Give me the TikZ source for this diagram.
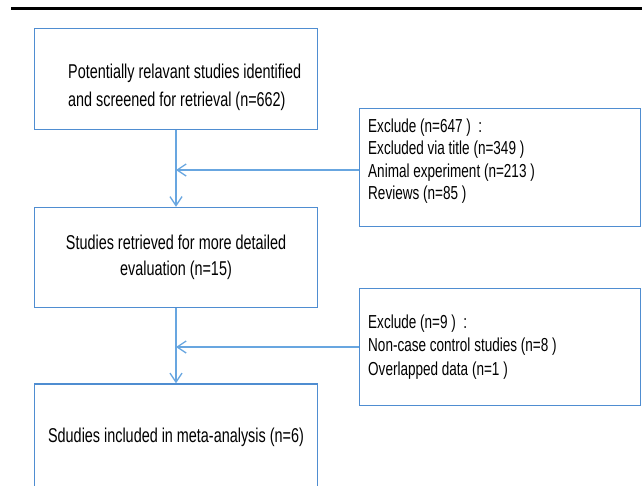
\documentclass[tikz,border=0pt]{standalone}
\usepackage{fontspec}
\setmainfont{Liberation Sans}[FakeStretch=0.72]
\usepackage{tikz}
\usetikzlibrary{arrows.meta}

\definecolor{boxblue}{RGB}{79,141,209}
\definecolor{lineblue}{RGB}{104,166,224}

\begin{document}
\begin{tikzpicture}[x=1pt,y=-1pt]
		\useasboundingbox (0,0) rectangle (642,485);
		\draw[line width=2.5pt] (11,8.7) -- (642,8.7);

		\begin{scope}[every node/.style={rectangle,draw=boxblue,line width=1.5pt,minimum width=283pt}]
			\node[minimum height=101pt] (identified) at (176,79) {};
			\node[minimum height=100pt,align=center,font=\fontsize{20pt}{26pt}\selectfont] (retrieved) at (176,257.5)
				{Studies retrieved for more detailed\\evaluation (n=15)};
			\node[minimum height=106pt,font=\fontsize{20pt}{24pt}\selectfont] (included) at (176,437)
				{Sdudies included in meta-analysis (n=6)};
			\node[minimum width=281pt,minimum height=118pt] (ex1) at (500,167.5) {};
			\node[minimum width=281pt,minimum height=117pt] (ex2) at (500,347) {};
		\end{scope}

		\begin{scope}[every node/.style={inner sep=0pt,align=left,anchor=west}]
			\node[font=\fontsize{20pt}{28pt}\selectfont] (identifiedtext) at (68,87)
				{Potentially relavant studies identified\\and screened for retrieval (n=662)};
			\node[font=\fontsize{18.8pt}{22.3pt}\selectfont] (ex1text) at (368,161)
				{Exclude (n=647 ) \ :\\Excluded via title (n=349 )\\Animal experiment (n=213 )\\Reviews (n=85 )};
			\node[font=\fontsize{18.8pt}{23.5pt}\selectfont] (ex2text) at (368,347)
				{Exclude (n=9 ) \ :\\Non-case control studies (n=8 )\\Overlapped data (n=1 )};
		\end{scope}

		\coordinate (join1) at (176,170);
		\begin{scope}[>={Straight Barb[length=9pt,width=12pt]},
			every edge/.style={draw=lineblue,line width=1.3pt}]
			\path [->] (identified) edge (retrieved);
			\path [->] (ex1.west |- join1) edge (join1);
			\path [->] (retrieved) edge (included);
			\path [->] (ex2.west) edge (retrieved.south |- ex2.west);
		\end{scope}
	\end{tikzpicture}
\end{document}
